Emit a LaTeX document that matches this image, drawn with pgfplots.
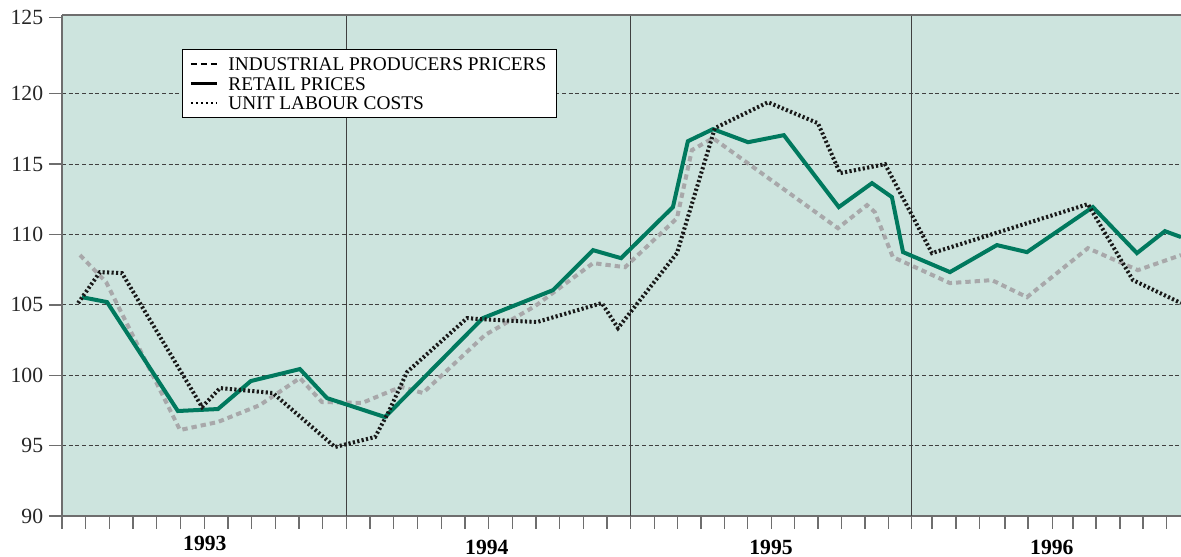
\documentclass[border=0pt]{standalone}
\usepackage{fontspec}
\setmainfont{Liberation Serif}
\usepackage{pgfplots}
\pgfplotsset{compat=1.18}
\usetikzlibrary{calc}
\definecolor{bgteal}{RGB}{205,228,222}
\definecolor{retail}{RGB}{0,121,94}
\definecolor{indgray}{RGB}{168,168,170}
\definecolor{ulc}{RGB}{25,25,25}
\definecolor{axgray}{RGB}{110,110,110}
\begin{document}
\begin{tikzpicture}
\begin{axis}[
  scale only axis, width=671.4pt, height=300.6pt,
  xmin=0, xmax=47.22, ymin=90, ymax=125.6,
  clip=false,
  axis x line*=bottom, axis y line*=left,
  axis line style={axgray, line width=0.8pt},
  axis background/.style={fill=bgteal},
  xtick={0,...,24,24.99,25.98,26.96,27.95,28.94,29.93,30.92,31.90,32.89,33.88,34.87,35.86,
         36.71,37.72,38.73,39.79,40.76,41.81,42.66,43.63,44.64,45.61,46.62},
  xticklabels={},
  ytick={95,100,...,120},
  extra y ticks={90,125.4}, extra y tick labels={90,125},
  extra y tick style={grid=none},
  extra x ticks={12,24,35.86}, extra x tick labels={},
  extra x tick style={grid=major, major grid style={solid, black!75, line width=0.6pt}},
  ymajorgrids,
  major grid style={black!75, line width=0.5pt, dash pattern=on 2.4pt off 1.6pt},
  tick align=outside, major tick length=7.8pt,
  tick style={axgray, line width=0.8pt},
  yticklabel style={font=\fontsize{13}{13}\selectfont, text=black!85},
  /pgf/number format/assume math mode=true,
  legend style={at={(0.107,0.932)}, anchor=north west, draw=black, line width=0.6pt,
    fill=white, font=\fontsize{11.6}{12}\selectfont, inner xsep=4.5pt, inner ysep=2.8pt,
    row sep=0pt, nodes={inner sep=1.6pt, text height=8.2pt, text depth=0.4pt},
    /tikz/every odd column/.append style={column sep=4.5pt}},
  legend cell align=left,
  legend image code/.code={\draw[#1] (0pt,0pt) -- (15.6pt,0pt);},
]
\addlegendimage{black, line width=1.2pt, dash pattern=on 3.6pt off 2.4pt}
\addlegendentry{INDUSTRIAL PRODUCERS PRICERS\hspace{4pt}}
\addlegendimage{black, line width=1.5pt}
\addlegendentry{RETAIL PRICES}
\addlegendimage{black, line width=1.2pt, dash pattern=on 1.5pt off 1.5pt}
\addlegendentry{UNIT LABOUR COSTS}

% Industrial producers prices (grey dashed)
\addplot[forget plot, indgray, line width=2.4pt, dash pattern=on 3.2pt off 2.4pt] coordinates {
(0.76,108.54) (1.86,106.62) (4.98,96.11) (6.58,96.68) (8.35,97.88) (10.04,99.80)
(10.97,98.10) (12.66,98.03) (13.97,98.95) (14.35,99.16) (15.23,98.74) (17.85,102.86)
(19.96,104.91) (22.41,107.97) (23.76,107.68) (25.95,111.16) (26.58,116.0) (27.47,116.85)
(32.74,110.45) (33.97,112.09) (34.30,111.59) (35.06,108.40) (37.47,106.55) (39.24,106.76)
(40.72,105.55) (43.29,109.03) (45.40,107.47) (47.22,108.54)
};
% Retail prices (green solid)
\addplot[forget plot, retail, line width=2.4pt] coordinates {
(0.84,105.55) (1.90,105.20) (4.89,97.46) (6.58,97.60) (7.97,99.59) (10.04,100.44)
(11.18,98.38) (13.63,97.03) (17.76,104.06) (20.72,106.05) (22.41,108.89) (23.59,108.32)
(25.78,111.95) (26.41,116.63) (27.47,117.49) (28.95,116.56) (30.46,117.06) (32.78,111.95)
(34.18,113.65) (35.02,112.66) (35.49,108.75) (37.47,107.33) (39.45,109.25) (40.72,108.75)
(43.50,111.95) (45.36,108.68) (46.54,110.24) (47.22,109.82)
};
% Unit labour costs (black dotted)
\addplot[forget plot, ulc, line width=2.4pt, dash pattern=on 1.3pt off 1.4pt] coordinates {
(0.68,105.13) (1.60,107.33) (2.53,107.26) (5.91,97.74) (6.67,99.09) (8.90,98.74)
(11.52,94.90) (13.21,95.61) (13.76,97.32) (14.56,100.23) (17.09,104.06) (17.64,103.99)
(20.04,103.78) (22.78,105.13) (23.46,103.35) (25.95,108.68) (27.55,117.56) (29.79,119.40)
(31.90,117.91) (32.83,114.36) (34.73,115.00) (36.71,108.68) (43.29,112.16) (45.19,106.76)
(47.22,105.13)
};

\draw[axgray, line width=0.8pt] (rel axis cs:0,1) -- (rel axis cs:1,1);
\node[font=\bfseries\fontsize{13}{13}\selectfont] at (axis cs:6.03,90) [yshift=-16.2pt] {1993};
\node[font=\bfseries\fontsize{13}{13}\selectfont] at (axis cs:17.93,90) [yshift=-18.6pt] {1994};
\node[font=\bfseries\fontsize{13}{13}\selectfont] at (axis cs:29.92,90) [yshift=-18.6pt] {1995};
\node[font=\bfseries\fontsize{13}{13}\selectfont] at (axis cs:41.77,90) [yshift=-18.6pt] {1996};
\end{axis}
\pgfresetboundingbox
\path ($(current axis.south west)+(-37.2pt,-24.6pt)$) rectangle ($(current axis.north east)+(0pt,9pt)$);
\end{tikzpicture}
\end{document}
